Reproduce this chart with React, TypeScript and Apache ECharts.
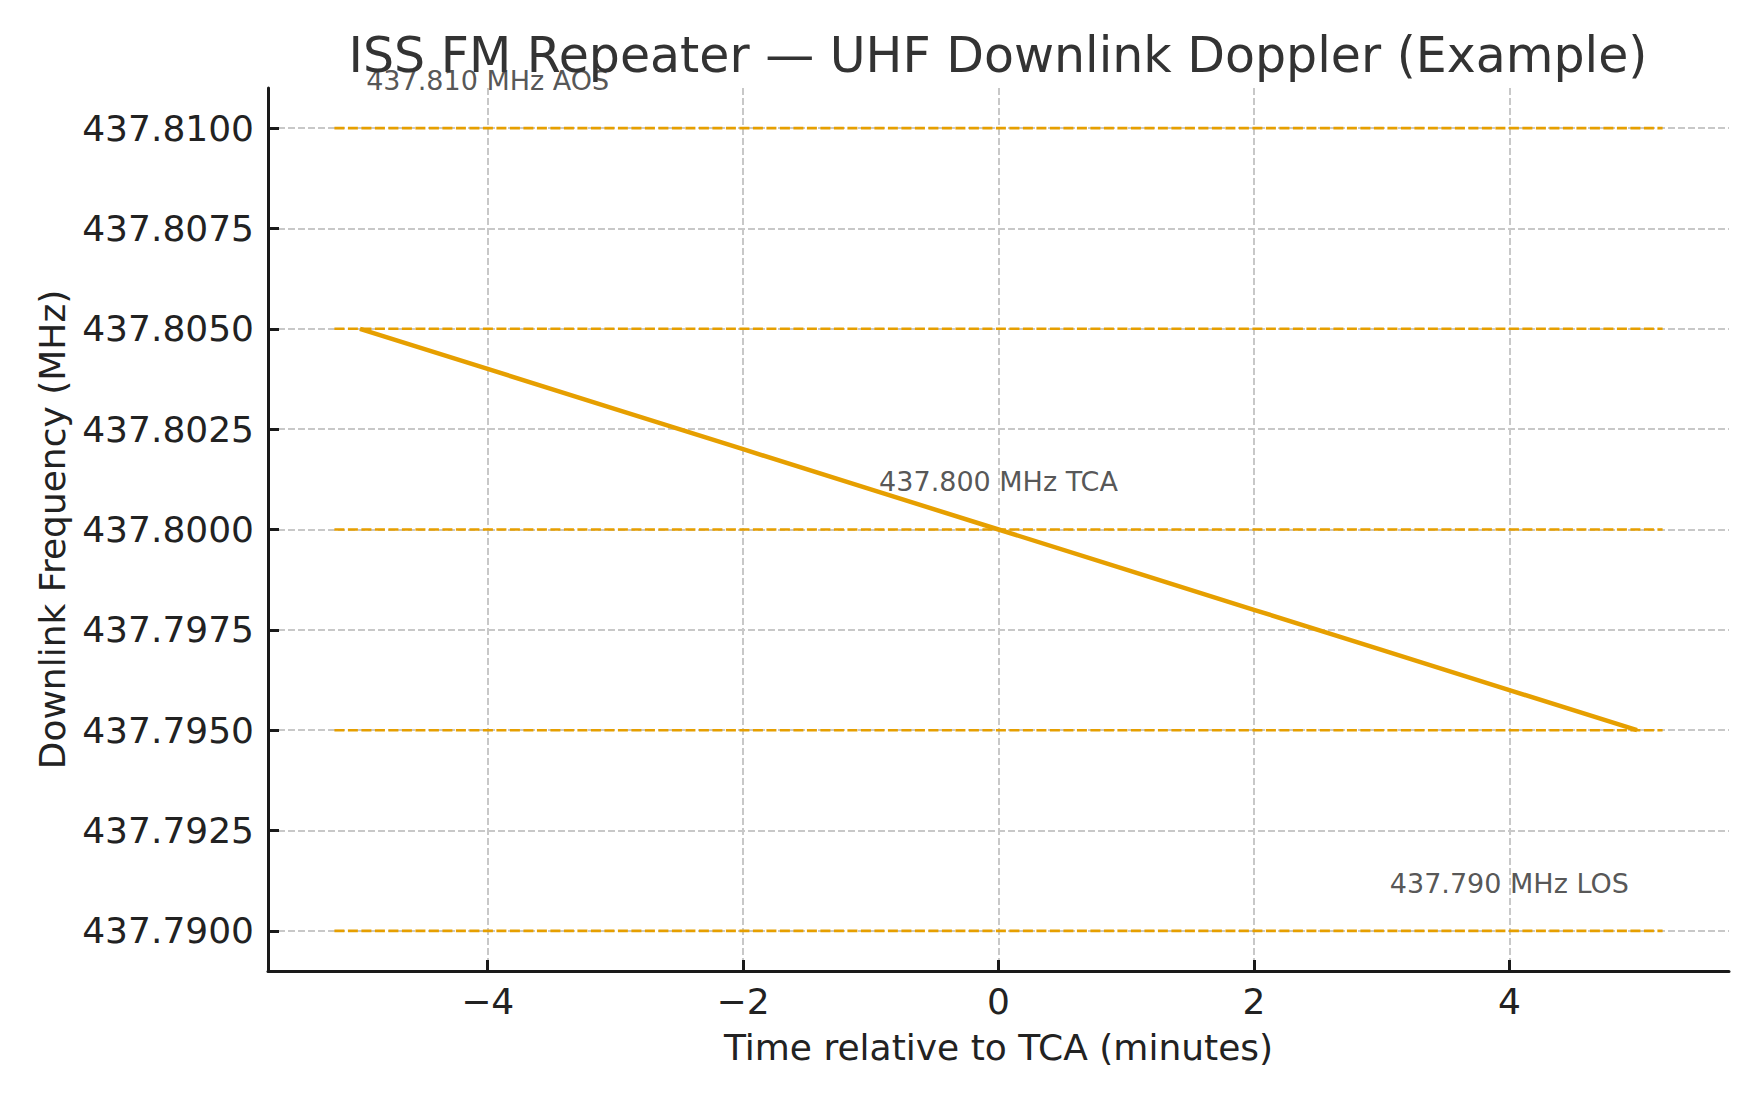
import React, { useEffect, useRef } from 'react'
import * as echarts from 'echarts'

// pass data
const times = [-5, -4, -3, -2, -1, 0, 1, 2, 3, 4, 5]
const freqs = [437.805, 437.804, 437.803, 437.802, 437.801, 437.8, 437.799, 437.798, 437.797, 437.796, 437.795]

// dashed reference levels (MHz) and the time span they cover
const refLevels = [437.81, 437.805, 437.8, 437.795, 437.79]
const refSpan = [-5.2, 5.2]

// annotated events
const eventNames = ['AOS', 'TCA', 'LOS']
const eventTimes = [-4, 0, 4]
const eventFreqs = [437.81, 437.8, 437.79]

// axis ticks
const xTicks = [-4, -2, 0, 2, 4]
const yTicks = [437.79, 437.7925, 437.795, 437.7975, 437.8, 437.8025, 437.805, 437.8075, 437.81]

const ORANGE = '#E69F00'
const FONT = 'DejaVu Sans'

export default function App() {
  const ref = useRef<HTMLDivElement | null>(null)

  useEffect(() => {
    document.body.style.margin = '0'
    if (!ref.current) return
    const chart = echarts.init(ref.current, null, { renderer: 'svg' })

    const refSeries = refLevels.map((lv, i) => ({
      type: 'line',
      name: 'ref' + i,
      data: [[refSpan[0], lv], [refSpan[1], lv]],
      symbol: 'none',
      silent: true,
      z: 2,
      lineStyle: { color: ORANGE, width: 2.6, type: [10, 3.5] },
    }))

    chart.setOption({
      animation: false,
      textStyle: { fontFamily: FONT },
      title: {
        text: 'ISS FM Repeater — UHF Downlink Doppler (Example)',
        left: 993,
        textAlign: 'center',
        top: 26,
        textStyle: { fontFamily: FONT, fontSize: 49, fontWeight: 'normal', color: '#333333' },
      },
      grid: { left: 268, top: 88, width: 1461, height: 883 },
      xAxis: {
        type: 'value',
        min: -5.72,
        max: 5.72,
        name: 'Time relative to TCA (minutes)',
        nameLocation: 'middle',
        nameGap: 58,
        nameTextStyle: { fontFamily: FONT, fontSize: 36, color: '#222222' },
        axisLine: { show: true, onZero: false, lineStyle: { color: '#1a1a1a', width: 3 } },
        axisTick: { show: true, inside: true, length: 11, customValues: xTicks, lineStyle: { color: '#1a1a1a', width: 3 } },
        axisLabel: {
          customValues: xTicks,
          margin: 12,
          fontFamily: FONT,
          fontSize: 36,
          color: '#222222',
          formatter: (v: number) => (v < 0 ? '\u2212' + Math.abs(v) : String(v)),
        },
        splitLine: { show: true, lineStyle: { color: '#c8c8c8', width: 2, type: [7, 3] } },
      },
      yAxis: {
        type: 'value',
        min: 437.789,
        max: 437.811,
        name: 'Downlink Frequency (MHz)',
        nameLocation: 'middle',
        nameGap: 198,
        nameTextStyle: { fontFamily: FONT, fontSize: 36, color: '#222222' },
        axisLine: { show: true, onZero: false, lineStyle: { color: '#1a1a1a', width: 3 } },
        axisTick: { show: true, inside: true, length: 11, customValues: yTicks, lineStyle: { color: '#1a1a1a', width: 3 } },
        axisLabel: {
          customValues: yTicks,
          margin: 14,
          fontFamily: FONT,
          fontSize: 36,
          color: '#222222',
          formatter: (v: number) => v.toFixed(4),
        },
        splitLine: { show: true, lineStyle: { color: '#c8c8c8', width: 2, type: [7, 3] } },
      },
      series: [
        ...refSeries,
        {
          type: 'line',
          name: 'Downlink',
          data: times.map((t, i) => [t, freqs[i]]),
          symbol: 'none',
          z: 3,
          lineStyle: { color: ORANGE, width: 4.5 },
        },
        {
          type: 'scatter',
          name: 'events',
          data: eventTimes.map((t, i) => [t, eventFreqs[i] + 0.001]),
          symbolSize: 0,
          silent: true,
          z: 4,
          label: {
            show: true,
            position: 'inside',
            align: 'center',
            verticalAlign: 'bottom',
            offset: [0, 6],
            fontFamily: FONT,
            fontSize: 27,
            color: '#2a2a2a',
            formatter: (p: any) => eventFreqs[p.dataIndex].toFixed(3) + ' MHz ' + eventNames[p.dataIndex],
          },
        },
      ],
    } as any)

    const onResize = () => chart.resize()
    window.addEventListener('resize', onResize)
    return () => {
      window.removeEventListener('resize', onResize)
      chart.dispose()
    }
  }, [])

  return <div ref={ref} style={{ width: 1760, height: 1100 }} />
}
